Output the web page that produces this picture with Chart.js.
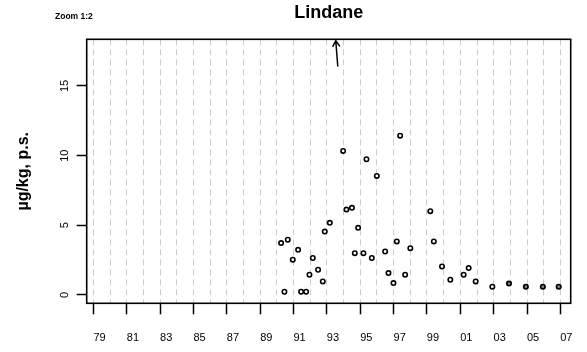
<!DOCTYPE html>
<html>
<head>
<meta charset="utf-8">
<title>Lindane</title>
<script src="https://cdn.jsdelivr.net/npm/chart.js@4.4.0/dist/chart.umd.min.js"></script>
<style>
  html, body { margin: 0; padding: 0; background: #fff; }
  #wrap { width: 587px; height: 352px; }
</style>
</head>
<body>
<div id="wrap"><canvas id="lindane-chart"></canvas></div>
<script>
// sampling dates (decimal years) and lindane, ug/kg dry weight
var sampleYears = [1990.25, 1990.45, 1990.65, 1990.95, 1991.27, 1991.45, 1991.75, 1991.95,
    1992.15, 1992.47, 1992.75, 1992.87, 1993.17, 1993.97, 1994.17, 1994.5, 1994.67, 1994.87,
    1995.19, 1995.37, 1995.69, 1995.99, 1996.49, 1996.69, 1996.99, 1997.19, 1997.39, 1997.69,
    1998.0, 1999.2, 1999.41, 1999.9, 2000.4, 2001.2, 2001.5, 2001.92, 2002.92];
var lindane = [3.72, 0.23, 3.96, 2.53, 3.24, 0.23, 0.23, 1.45,
    2.65, 1.81, 0.97, 4.55, 5.18, 10.34, 6.13, 6.25, 3.0, 4.82,
    3.0, 9.74, 2.65, 8.54, 3.12, 1.57, 0.85, 3.84, 11.43, 1.45,
    3.36, 6.01, 3.84, 2.04, 1.09, 1.45, 1.93, 0.97, 0.59];

// later years: several samples on top of each other
var repeatYears = [2003.92, 2004.93, 2005.95, 2006.9];
var repeatValues = [0.82, 0.59, 0.59, 0.59];

// one value is off the scale, shown with an arrow (year, value)
var arrowFrom = [1993.65, 16.4];
var arrowTo = [1993.53, 18.25];

var yTicks = [0, 5, 10, 15];
var firstYear = 1979;
var lastYear = 2007;

var FONT = '"Liberation Sans", Arial, Helvetica, sans-serif';

function toPoints(xs, ys) {
    var pts = [];
    for (var i = 0; i < xs.length; i++) {
        pts.push({ x: xs[i], y: ys[i] });
    }
    return pts;
}

var gridYears = [];
for (var yr = firstYear; yr <= lastYear; yr++) {
    gridYears.push(yr);
}

// frame, rotated y labels, the arrow and the small note
var frameAndNotes = {
    id: 'frameAndNotes',
    afterDraw: function(chart) {
        var ctx = chart.ctx;
        var area = chart.chartArea;
        var xs = chart.scales.x;
        var ys = chart.scales.y;
        ctx.save();

        ctx.strokeStyle = '#000';
        ctx.lineWidth = 1.6;
        ctx.strokeRect(area.left, area.top, area.right - area.left, area.bottom - area.top);

        ctx.fillStyle = '#000';
        ctx.font = '11px ' + FONT;
        ctx.textAlign = 'center';
        ctx.textBaseline = 'middle';
        ys.ticks.forEach(function(t) {
            ctx.save();
            ctx.translate(area.left - 22, ys.getPixelForValue(t.value));
            ctx.rotate(-Math.PI / 2);
            ctx.fillText(String(t.value), 0, 0);
            ctx.restore();
        });

        var x0 = xs.getPixelForValue(arrowFrom[0]), y0 = ys.getPixelForValue(arrowFrom[1]);
        var x1 = xs.getPixelForValue(arrowTo[0]), y1 = ys.getPixelForValue(arrowTo[1]);
        var ang = Math.atan2(y1 - y0, x1 - x0);
        var head = 7;
        ctx.lineWidth = 1.5;
        ctx.beginPath();
        ctx.moveTo(x0, y0);
        ctx.lineTo(x1, y1);
        ctx.moveTo(x1 - head * Math.cos(ang - 0.55), y1 - head * Math.sin(ang - 0.55));
        ctx.lineTo(x1, y1);
        ctx.lineTo(x1 - head * Math.cos(ang + 0.55), y1 - head * Math.sin(ang + 0.55));
        ctx.stroke();

        ctx.font = 'bold 8.5px ' + FONT;
        ctx.textAlign = 'left';
        ctx.fillText('Zoom 1:2', 55, 17);

        ctx.restore();
    }
};

var ctx = document.getElementById('lindane-chart').getContext('2d');
var chart = new Chart(ctx, {
    type: 'scatter',
    data: {
        datasets: [{
            label: 'Lindane',
            data: toPoints(sampleYears, lindane),
            pointRadius: 2.2,
            borderWidth: 1.6,
            borderColor: '#000',
            backgroundColor: '#fff'
        }, {
            label: 'Lindane (repeated)',
            data: toPoints(repeatYears, repeatValues),
            pointRadius: 2.2,
            borderWidth: 1.7,
            borderColor: '#000',
            backgroundColor: '#888'
        }]
    },
    options: {
        responsive: true,
        maintainAspectRatio: false,
        animation: false,
        devicePixelRatio: 1,
        layout: { padding: { left: 0, right: 16.3, top: 0, bottom: 0 } },
        plugins: {
            legend: { display: false },
            tooltip: { enabled: false },
            title: {
                display: true,
                text: 'Lindane',
                fullSize: false,
                color: '#000',
                font: { family: FONT, size: 18, weight: 'bold' },
                padding: { top: 2.2, bottom: 15.5 }
            }
        },
        scales: {
            x: {
                type: 'linear',
                min: 1978.59,
                max: 2007.62,
                afterBuildTicks: function(scale) {
                    scale.ticks = gridYears.map(function(v) { return { value: v }; });
                },
                afterFit: function(scale) {
                    scale.height = 48.7;
                },
                border: { display: false, dash: [6, 4] },
                grid: {
                    drawOnChartArea: true,
                    color: '#cccccc',
                    lineWidth: 1,
                    drawTicks: true,
                    tickLength: 11,
                    tickWidth: 1.5,
                    tickBorderDash: [],
                    tickColor: function(c) {
                        return c.tick && c.tick.value % 2 === 1 ? '#000' : 'rgba(0,0,0,0)';
                    }
                },
                ticks: {
                    autoSkip: false,
                    maxRotation: 0,
                    labelOffset: 6,
                    padding: 17,
                    color: '#000',
                    font: { family: FONT, size: 11 },
                    callback: function(v) {
                        if (v % 2 !== 1) return '';
                        return String(v % 100).padStart(2, '0');
                    }
                }
            },
            y: {
                min: -0.6,
                max: 18.35,
                afterBuildTicks: function(scale) {
                    scale.ticks = yTicks.map(function(v) { return { value: v }; });
                },
                afterFit: function(scale) {
                    scale.width = 86.7;
                },
                border: { display: false },
                grid: {
                    drawOnChartArea: false,
                    drawTicks: true,
                    tickLength: 10,
                    tickWidth: 1.5,
                    tickColor: '#000'
                },
                ticks: { display: false },
                title: {
                    display: true,
                    text: 'µg/kg, p.s.',
                    color: '#000',
                    font: { family: FONT, size: 16, weight: 'bold' },
                    padding: { top: 14.4, bottom: 0 }
                }
            }
        }
    },
    plugins: [frameAndNotes]
});
</script>
</body>
</html>
